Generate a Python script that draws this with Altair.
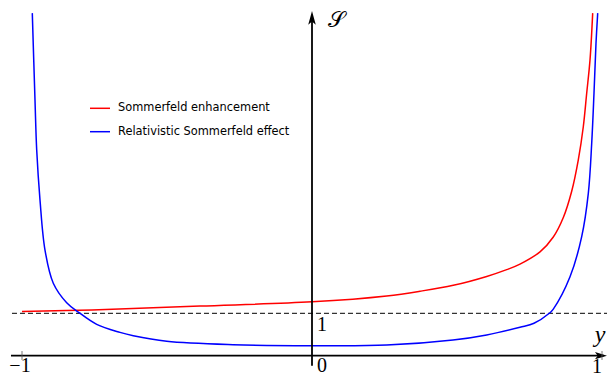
import altair as alt
import pandas as pd

# ---- data ----
red_x = [-1.0, -0.7586, -0.3862, 0.0, 0.2576, 0.3724, 0.4872, 0.6024, 0.6714, 0.7172,
         0.7862, 0.8321, 0.8666, 0.8955, 0.9183, 0.9355, 0.9472, 0.9586, 0.9679]
red_s = [1.04, 1.08, 1.17, 1.27, 1.41, 1.52, 1.66, 1.87, 2.03, 2.16,
         2.45, 2.80, 3.26, 3.88, 4.62, 5.40, 6.19, 6.97, 8.08]

blue_x = [-0.9645, -0.9552, -0.9493, -0.9379, -0.9207, -0.8921, -0.8459, -0.8059, -0.7424,
          -0.6621, -0.6162, -0.5010, -0.2724, 0.0, 0.2576, 0.4862, 0.6024, 0.7172, 0.7655,
          0.8183, 0.8321, 0.8897, 0.9300, 0.9528, 0.9645, 0.9724, 0.9793, 0.9852]
blue_s = [8.08, 6.03, 4.85, 3.67, 2.49, 1.71, 1.25, 1.03, 0.74,
          0.55, 0.47, 0.34, 0.26, 0.236, 0.25, 0.37, 0.49, 0.67, 0.764,
          1.0, 1.10, 1.86, 2.81, 3.83, 5.01, 6.19, 7.37, 8.08]

series_names = ["Sommerfeld enhancement", "Relativistic Sommerfeld effect"]
series_colors = ["#ff0000", "#0000ff"]

x_tick_labels = ["\u22121", "0", "1"]
reference_level = 1

W, H = 599, 368
XDOM = [-1.04828, 1.01724]
YDOM = [-0.4788, 8.2005]

xs = alt.Scale(domain=XDOM, nice=False, zero=False)
ys = alt.Scale(domain=YDOM, nice=False, zero=False)

rows = []
for name, xv, sv in [(series_names[0], red_x, red_s), (series_names[1], blue_x, blue_s)]:
    for a, b in zip(xv, sv):
        rows.append({"series": name, "y": a, "S": b})
curves_df = pd.DataFrame(rows)

curves = alt.Chart(curves_df).mark_line(strokeWidth=1.5, interpolate="catmull-rom", clip=True).encode(
    x=alt.X("y:Q", scale=xs, axis=None),
    y=alt.Y("S:Q", scale=ys, axis=None),
    color=alt.Color("series:N", scale=alt.Scale(domain=series_names, range=series_colors), legend=None),
    detail="series:N",
)

# dashed reference line S = 1
dash_df = pd.DataFrame({"x1": [-1.0345], "x2": [1.0207], "s": [reference_level]})
dashed = alt.Chart(dash_df).mark_rule(color="black", strokeWidth=1, strokeDash=[5, 3]).encode(
    x=alt.X("x1:Q", scale=xs, axis=None), x2="x2:Q", y=alt.Y("s:Q", scale=ys, axis=None)
)

# x axis line
xaxis_df = pd.DataFrame({"x1": [-1.038], "x2": [1.005], "s": [0]})
xaxis = alt.Chart(xaxis_df).mark_rule(color="black", strokeWidth=1.8).encode(
    x=alt.X("x1:Q", scale=xs, axis=None), x2="x2:Q", y=alt.Y("s:Q", scale=ys, axis=None)
)
# y axis line
yaxis_df = pd.DataFrame({"x": [0], "s1": [-0.24], "s2": [7.95]})
yaxis = alt.Chart(yaxis_df).mark_rule(color="black", strokeWidth=1.8).encode(
    x=alt.X("x:Q", scale=xs, axis=None), y=alt.Y("s1:Q", scale=ys, axis=None), y2="s2:Q"
)

# arrow heads
arr_right = pd.DataFrame({"x": [0.9965], "s": [0]})
arrow_x = alt.Chart(arr_right).mark_point(
    shape="M1,0 L-1,-0.6 L-0.55,0 L-1,0.6 Z", filled=True, color="black", opacity=1, size=144
).encode(x=alt.X("x:Q", scale=xs, axis=None), y=alt.Y("s:Q", scale=ys, axis=None))
arr_up = pd.DataFrame({"x": [0], "s": [7.97]})
arrow_y = alt.Chart(arr_up).mark_point(
    shape="M0,-1 L-0.55,1 L0,0.55 L0.55,1 Z", filled=True, color="black", opacity=1, size=190
).encode(x=alt.X("x:Q", scale=xs, axis=None), y=alt.Y("s:Q", scale=ys, axis=None))

# small ticks at -1 and 1
tick_df = pd.DataFrame({"x": [-1, 1], "s1": [0.11, 0.11], "s2": [-0.1, -0.1]})
ticks = alt.Chart(tick_df).mark_rule(color="#555555", strokeWidth=0.8).encode(
    x=alt.X("x:Q", scale=xs, axis=None), y=alt.Y("s1:Q", scale=ys, axis=None), y2="s2:Q"
)

# tick labels
lab_df = pd.DataFrame({
    "x": [-1.0069, 0.0345, 0.983],
    "s": [-0.243, -0.245, -0.26],
    "t": x_tick_labels,
})
labels = alt.Chart(lab_df).mark_text(font="Liberation Serif", fontSize=20, baseline="middle", align="center").encode(
    x=alt.X("x:Q", scale=xs, axis=None), y=alt.Y("s:Q", scale=ys, axis=None), text="t:N"
)
one_df = pd.DataFrame({"x": [0.0345], "s": [0.724], "t": [str(reference_level)]})
one_lab = alt.Chart(one_df).mark_text(font="Liberation Serif", fontSize=20, baseline="middle", align="center").encode(
    x=alt.X("x:Q", scale=xs, axis=None), y=alt.Y("s:Q", scale=ys, axis=None), text="t:N"
)

# axis names
yname_df = pd.DataFrame({"x": [0.9931], "s": [0.323], "t": ["y"]})
yname = alt.Chart(yname_df).mark_text(font="Liberation Serif", fontStyle="italic", fontSize=24,
                                      baseline="alphabetic", align="center").encode(
    x=alt.X("x:Q", scale=xs, axis=None), y=alt.Y("s:Q", scale=ys, axis=None), text="t:N"
)
sname_df = pd.DataFrame({"x": [0.0862], "s": [7.75], "t": ["\U0001D4AE"]})
sname = alt.Chart(sname_df).mark_text(font="DejaVu Serif", fontSize=22,
                                      baseline="alphabetic", align="center").encode(
    x=alt.X("x:Q", scale=xs, axis=None), y=alt.Y("s:Q", scale=ys, axis=None), text="t:N"
)

# manual legend
legend_layers = []
leg_y = [100.3, 123.7]
for name, col, yy in zip(series_names, series_colors, leg_y):
    d = pd.DataFrame({"t": [name]})
    legend_layers.append(
        alt.Chart(d).mark_rule(color=col, strokeWidth=1.5).encode(
            x=alt.value(82), x2=alt.value(102), y=alt.value(yy)
        )
    )
    legend_layers.append(
        alt.Chart(d).mark_text(font="DejaVu Sans", fontSize=11.4, align="left", baseline="middle", color="black").encode(
            x=alt.value(110), y=alt.value(yy), text="t:N"
        )
    )

chart = alt.layer(
    dashed, curves, xaxis, yaxis, arrow_x, arrow_y, ticks, labels, one_lab, yname, sname, *legend_layers
).properties(
    width=W, height=H, padding=0, autosize=alt.AutoSizeParams(type="none")
).configure_view(stroke=None)

chart.save("out.html", embed_options={"renderer": "svg", "actions": False})
